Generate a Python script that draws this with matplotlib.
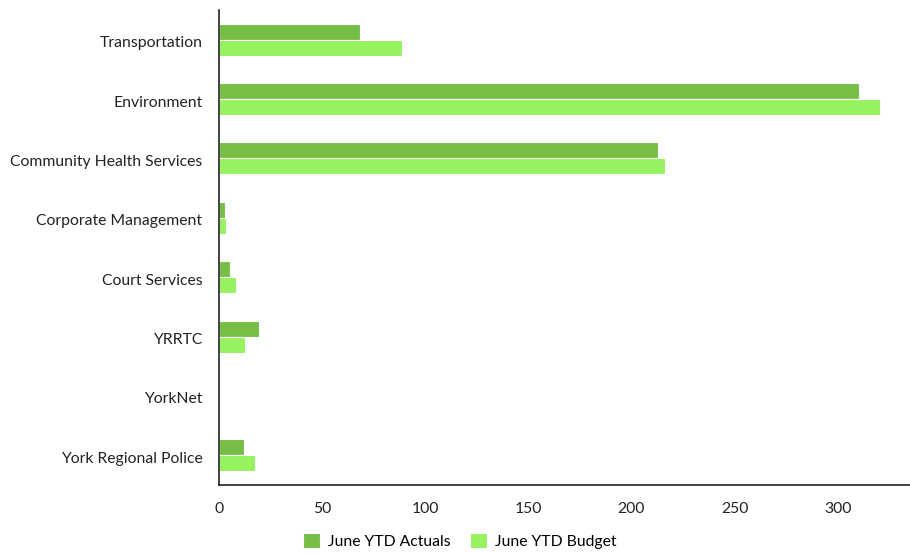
import numpy as np
import matplotlib.pyplot as plt
import matplotlib.transforms as mtransforms

# --- data ---
categories = ["Transportation", "Environment", "Community Health Services",
              "Corporate Management", "Court Services", "YRRTC", "YorkNet",
              "York Regional Police"]
actuals = [68.4, 310.5, 212.8, 3.0, 5.5, 19.5, 0.0, 12.0]
budget = [88.8, 320.5, 216.5, 3.6, 8.0, 12.8, 0.0, 17.5]
series_names = ["June YTD Actuals", "June YTD Budget"]
x_ticks = [0, 50, 100, 150, 200, 250, 300]

plt.rcParams['font.family'] = ['Lato', 'DejaVu Sans']

fig = plt.figure(figsize=(9.1, 5.54), dpi=100)
ax = fig.add_axes([0.2407, 0.1245, 0.759, 0.8575])

y = np.arange(len(categories))
h = 0.27
ax.barh(y - h / 2, actuals, height=h, color='#76be46', edgecolor='white',
        linewidth=0.8, label=series_names[0])
ax.barh(y + h / 2, budget, height=h, color='#96f25e', edgecolor='white',
        linewidth=0.8, label=series_names[1])

ax.set_ylim(len(categories) - 0.5, -0.5)
ax.set_xlim(0, 335)
ax.set_yticks(y)
ax.set_yticklabels(categories)
ax.set_xticks(x_ticks)

for s in ['top', 'right']:
    ax.spines[s].set_visible(False)
for s in ['left', 'bottom']:
    ax.spines[s].set_color('#222222')
    ax.spines[s].set_linewidth(1.2)
ax.tick_params(axis='both', length=0, labelsize=11.3, colors='#222222')
ax.tick_params(axis='x', pad=12)
ax.tick_params(axis='y', pad=12)

# nudge the category labels a couple of pixels down
offset = mtransforms.ScaledTranslation(0, -2 / 100, fig.dpi_scale_trans)
for lbl in ax.get_yticklabels():
    lbl.set_transform(lbl.get_transform() + offset)

fig.legend(loc='lower center', bbox_to_anchor=(0.505, -0.017), ncol=2,
           frameon=False, fontsize=11.3, handlelength=1.1, handleheight=1.1,
           columnspacing=1.2, handletextpad=0.5)

fig.savefig('out.png', dpi=100)
